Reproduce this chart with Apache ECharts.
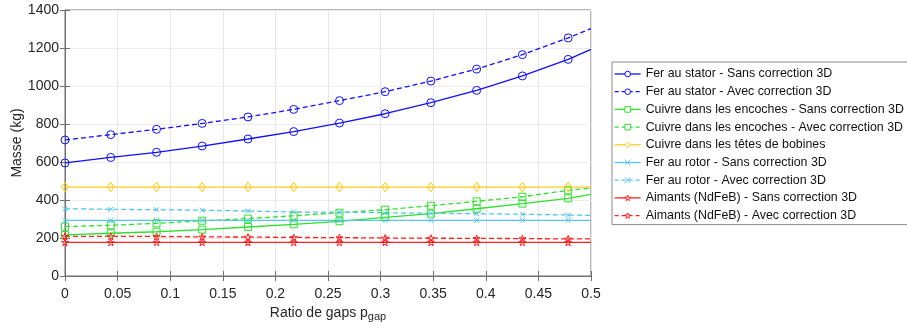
<!DOCTYPE html>
<html><head><meta charset="utf-8">
<script src="https://cdn.jsdelivr.net/npm/echarts@6/dist/echarts.min.js"></script>
<style>html,body{margin:0;padding:0;background:#fff}#c{width:907px;height:330px}</style>
</head><body><div id="c"></div>
<script>
var xRatio = [0, 0.0435, 0.087, 0.1304, 0.1739, 0.2174, 0.2609, 0.3043, 0.3478, 0.3913, 0.4348, 0.4783, 0.5];
var ferStatorSans = [595, 624, 651, 684, 721, 760, 805, 854, 912, 977, 1053, 1140, 1193];
var ferStatorAvec = [716, 744, 772, 803, 837, 877, 923, 970, 1026, 1089, 1165, 1253, 1302];
var cuivreEncSans = [216, 225, 233, 244, 258, 272, 288, 309, 328, 354, 381, 409, 430];
var cuivreEncAvec = [260, 267, 277, 291, 302, 317, 333, 349, 370, 393, 417, 451, 463];
var cuivreTetes = [468, 468, 468, 468, 468, 468, 468, 468, 468, 468, 468, 468, 468];
var rotorSans = [293, 293, 293, 293, 293, 293, 293, 293, 293, 293, 293, 293, 293];
var rotorAvec = [354, 351, 349, 346, 342, 337, 336, 333, 330, 328, 325, 321, 319];
var aimantsSans = [177, 177, 177, 177, 177, 177, 177, 177, 177, 177, 177, 177, 177];
var aimantsAvec = [209, 209, 208, 206, 205, 203, 202, 200, 199, 198, 197, 195, 195];
var seriesNames = [
  'Fer au stator - Sans correction 3D',
  'Fer au stator - Avec correction 3D',
  'Cuivre dans les encoches - Sans correction 3D',
  'Cuivre dans les encoches - Avec correction 3D',
  'Cuivre dans les têtes de bobines',
  'Fer au rotor - Sans correction 3D',
  'Fer au rotor - Avec correction 3D',
  'Aimants (NdFeB) - Sans correction 3D',
  'Aimants (NdFeB) - Avec correction 3D'
];
var yTicks = [0, 200, 400, 600, 800, 1000, 1200, 1400];

var FONT = 'Liberation Sans, Arial, Helvetica, sans-serif';
var XSYM = 'path://M0,0 L10,10 M10,0 L0,10';
var STAR = 'path://M50,0 L61.8,36.2 L100,36.2 L69.1,58.8 L80.9,95.1 L50,72.6 L19.1,95.1 L30.9,58.8 L0,36.2 L38.2,36.2 Z';

var colors = ['#1010ff', '#1010ff', '#2ee02e', '#2ee02e', '#ffcc22', '#55c4f2', '#55c4f2', '#ff2020', '#ff2020'];
var dashed = [false, true, false, true, false, false, true, false, true];
var symbols = ['circle', 'circle', 'rect', 'rect', 'diamond', XSYM, XSYM, STAR, STAR];
var sizes = [8, 8, 7, 7, [7, 9], 5, 5, 7, 7];
var values = [ferStatorSans, ferStatorAvec, cuivreEncSans, cuivreEncAvec, cuivreTetes, rotorSans, rotorAvec, aimantsSans, aimantsAvec];

var series = seriesNames.map(function (name, k) {
  var vals = values[k], color = colors[k];
  var data = vals.map(function (v, i) {
    var d = { value: [xRatio[i], v] };
    if (i === vals.length - 1) d.symbol = 'none';
    return d;
  });
  return {
    name: name, type: 'line', data: data,
    symbol: symbols[k], symbolSize: sizes[k], showAllSymbol: true,
    lineStyle: { color: color, width: 1.3, type: dashed[k] ? [5, 3] : 'solid' },
    itemStyle: { color: 'rgba(255,255,255,0)', borderColor: color, borderWidth: 1 },
    emphasis: { disabled: true },
    animation: false
  };
});

var legendData = seriesNames.map(function (name, k) {
  return {
    name: name,
    itemStyle: { color: '#ffffff', borderColor: colors[k], borderWidth: 1 },
    lineStyle: { color: colors[k], width: 1.3, type: dashed[k] ? [4, 3] : 'solid' }
  };
});

var chart = echarts.init(document.getElementById('c'), null, { renderer: 'canvas' });
chart.setOption({
  animation: false,
  backgroundColor: '#fff',
  textStyle: { fontFamily: FONT },
  grid: { left: 65, right: 316, top: 10, bottom: 54, show: true, borderColor: '#707070', borderWidth: 1, outerBoundsMode: 'none', containLabel: false },
  legend: {
    orient: 'vertical', left: 612, top: 62,
    padding: [5, 4, 2, 2], itemGap: 3.7, itemWidth: 26, itemHeight: 7,
    borderColor: '#8a8a8a', borderWidth: 1, backgroundColor: '#fff',
    textStyle: { fontSize: 12.4, color: '#111', fontFamily: FONT, lineHeight: 14 },
    data: legendData
  },
  xAxis: [{
    type: 'value', min: 0, max: 0.5, interval: 0.05,
    name: '{a|Ratio de gaps p}{s|gap}', nameLocation: 'middle', nameGap: 26,
    nameTextStyle: { rich: { a: { fontSize: 14, color: '#262626', fontFamily: FONT }, s: { fontSize: 11, color: '#262626', fontFamily: FONT, padding: [9, 0, 0, 0] } } },
    axisLine: { show: true, lineStyle: { color: '#707070' } },
    axisTick: { show: true, inside: true, length: 5, lineStyle: { color: '#707070' } },
    axisLabel: { fontSize: 14, color: '#262626', margin: 11, fontFamily: FONT },
    splitLine: { show: true, lineStyle: { color: '#e6e6e6' } }
  }, {
    type: 'value', position: 'top', min: 0, max: 0.5, interval: 0.05,
    axisLine: { show: true, lineStyle: { color: '#707070' } },
    axisTick: { show: true, inside: true, length: 5, lineStyle: { color: '#707070' } },
    axisLabel: { show: false }, splitLine: { show: false }
  }],
  yAxis: [{
    type: 'value', min: yTicks[0], max: yTicks[yTicks.length - 1], interval: 200,
    name: 'Masse (kg)', nameLocation: 'middle', nameGap: 41, nameMoveOverlap: false,
    nameTextStyle: { fontSize: 14, color: '#262626', fontFamily: FONT },
    axisLine: { show: true, lineStyle: { color: '#707070' } },
    axisTick: { show: true, inside: true, length: 5, lineStyle: { color: '#707070' } },
    axisLabel: { fontSize: 14, color: '#262626', margin: 6, fontFamily: FONT, formatter: function (v) { return String(v); } },
    splitLine: { show: true, lineStyle: { color: '#ececec' } }
  }, {
    type: 'value', position: 'right', min: 0, max: 1400, interval: 200,
    axisLine: { show: true, lineStyle: { color: '#707070' } },
    axisTick: { show: true, inside: true, length: 5, lineStyle: { color: '#707070' } },
    axisLabel: { show: false }, splitLine: { show: false }
  }],
  series: series
});
</script></body></html>
